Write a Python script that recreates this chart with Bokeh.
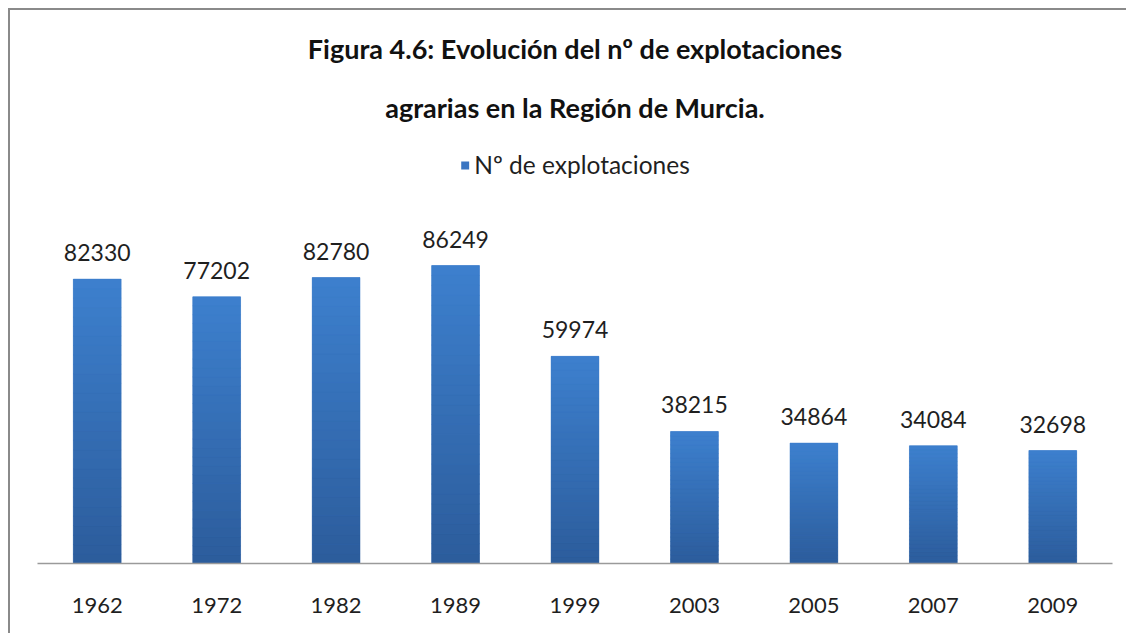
from bokeh.plotting import figure
from bokeh.models import ColumnDataSource, Range1d, Title, Legend, LegendItem, LabelSet, FactorRange
from bokeh.core.properties import value
from bokeh.embed import file_html
from bokeh.resources import INLINE

years = ["1962", "1972", "1982", "1989", "1999", "2003", "2005", "2007", "2009"]
explotaciones = [82330, 77202, 82780, 86249, 59974, 38215, 34864, 34084, 32698]
series_name = "Nº de explotaciones"
title_line1 = "Figura 4.6: Evolución del nº de explotaciones"
title_line2 = "agrarias en la Región de Murcia."

FONT = "Lato"
TXT = "#1f1f1f"
TOP_RGB = (0x3D, 0x80, 0xCE)
BOT_RGB = (0x2C, 0x5C, 0x9B)
N_BANDS = 30

src = ColumnDataSource(dict(year=years, value=explotaciones,
                            label=[str(v) for v in explotaciones]))

# gradient bands (styling only) built from the data values
bx, bb, bt, bc = [], [], [], []
for yr, v in zip(years, explotaciones):
    for i in range(N_BANDS):
        f = (i + 0.5) / N_BANDS
        rgb = tuple(int(round(BOT_RGB[k] + (TOP_RGB[k] - BOT_RGB[k]) * f)) for k in range(3))
        bx.append(yr)
        bb.append(v * i / N_BANDS)
        bt.append(v * (i + 1) / N_BANDS)
        bc.append("#%02x%02x%02x" % rgb)
bands = ColumnDataSource(dict(x=bx, bottom=bb, top=bt, color=bc))

p = figure(width=1118, height=625,
           x_range=FactorRange(*years, range_padding=0),
           y_range=Range1d(0, 123900),
           output_backend="svg", toolbar_location=None,
           min_border_left=27, min_border_right=16, min_border_bottom=72,
           min_border_top=125)
p.styles = {"box-shadow": "-2px -2px 0px 0px #8a8a8a",
            "margin-left": "10px", "margin-top": "10px"}

r = p.vbar(x="year", top="value", width=0.4, source=src,
           fill_color="#3A75C2", line_color=None)
p.vbar(x="x", bottom="bottom", top="top", width=0.4, source=bands,
       fill_color="color", line_color="color", line_width=0.5)

p.add_layout(Title(text=title_line2, text_font=FONT, text_font_size="27px",
                   text_font_style="bold", align="center", text_color="#111111",
                   standoff=24), "above")
p.add_layout(Title(text=title_line1, text_font=FONT, text_font_size="27px",
                   text_font_style="bold", align="center", text_color="#111111",
                   standoff=24), "above")

legend = Legend(items=[LegendItem(label=series_name, renderers=[r])],
                location="top_center", orientation="horizontal",
                border_line_alpha=0, background_fill_alpha=0,
                label_text_font=FONT, label_text_font_size="24.5px",
                label_text_color=TXT, glyph_width=10, glyph_height=10,
                label_standoff=5, margin=10, padding=5)
p.add_layout(legend)

labels = LabelSet(x="year", y="value", text="label", source=src,
                  text_align="center", text_baseline="alphabetic", y_offset=18,
                  text_font=value(FONT), text_font_size=value("23px"),
                  text_color=TXT)
p.add_layout(labels)

p.yaxis.visible = False
p.xgrid.grid_line_color = None
p.ygrid.grid_line_color = None
p.outline_line_color = None
p.xaxis.axis_line_color = "#9a9a9a"
p.xaxis.axis_line_width = 1.5
p.xaxis.major_tick_line_color = None
p.xaxis.minor_tick_line_color = None
p.xaxis.major_label_text_font = FONT
p.xaxis.major_label_text_font_size = "22px"
p.xaxis.major_label_text_color = TXT
p.xaxis.major_label_standoff = 28

open("out.html", "w").write(file_html(p, INLINE))
